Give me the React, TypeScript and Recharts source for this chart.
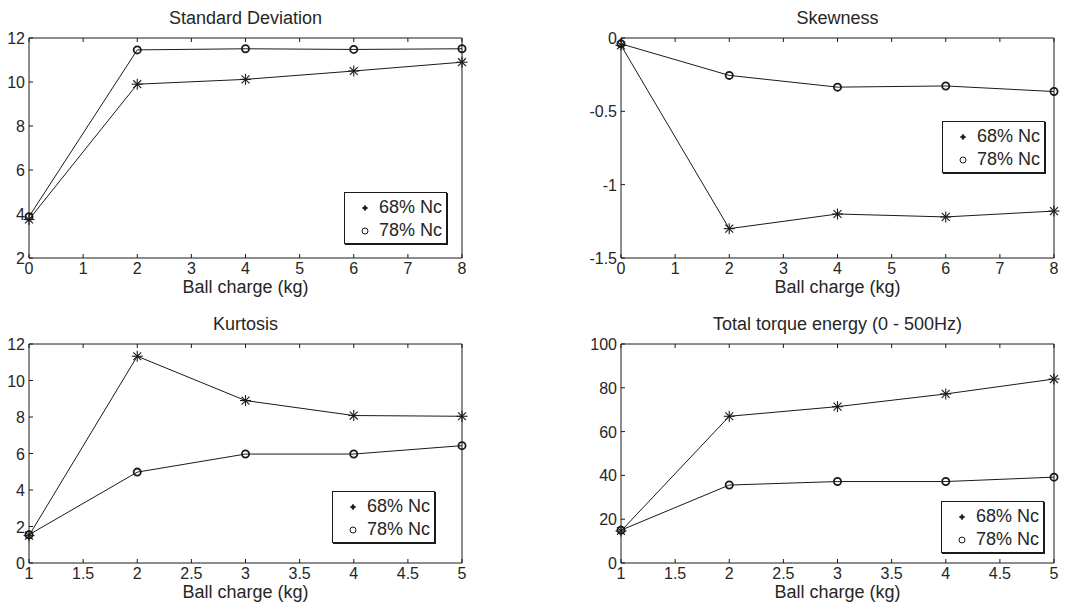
import React from 'react';
import { LineChart, Line, XAxis, YAxis, Legend } from 'recharts';

const FONT = '"Liberation Sans", Arial, Helvetica, sans-serif';
const INK = '#1a1a1a';
const TEXT = '#262626';
const TICK_LEN = 4;

const seriesNames = ['68% Nc', '78% Nc'];

// Standard deviation
const sdX = [0, 2, 4, 6, 8];
const sd68 = [3.75, 9.9, 10.12, 10.5, 10.9];
const sd78 = [3.88, 11.46, 11.51, 11.48, 11.51];
const sdXTicks = [0, 1, 2, 3, 4, 5, 6, 7, 8];
const sdYTicks = [2, 4, 6, 8, 10, 12];

// Skewness
const skX = [0, 2, 4, 6, 8];
const sk68 = [-0.05, -1.3, -1.2, -1.22, -1.18];
const sk78 = [-0.04, -0.255, -0.335, -0.327, -0.365];
const skXTicks = [0, 1, 2, 3, 4, 5, 6, 7, 8];
const skYTicks = [-1.5, -1, -0.5, 0];

// Kurtosis
const kuX = [1, 2, 3, 4, 5];
const ku68 = [1.5, 11.33, 8.9, 8.08, 8.04];
const ku78 = [1.55, 4.98, 5.97, 5.97, 6.43];
const kuXTicks = [1, 1.5, 2, 2.5, 3, 3.5, 4, 4.5, 5];
const kuYTicks = [0, 2, 4, 6, 8, 10, 12];

// Total torque energy
const teX = [1, 2, 3, 4, 5];
const te68 = [14.6, 67, 71.4, 77.2, 84];
const te78 = [15, 35.6, 37.2, 37.2, 39.2];
const teXTicks = [1, 1.5, 2, 2.5, 3, 3.5, 4, 4.5, 5];
const teYTicks = [0, 20, 40, 60, 80, 100];

const StarDot = (p: any) => {
  const { cx, cy } = p;
  if (cx == null || cy == null) return <g key={p.index} />;
  const r = 5.5;
  const d = r * 0.72;
  return (
    <g key={`s${p.index}`} stroke={INK} strokeWidth={1.1}>
      <line x1={cx - r} y1={cy} x2={cx + r} y2={cy} />
      <line x1={cx} y1={cy - r} x2={cx} y2={cy + r} />
      <line x1={cx - d} y1={cy - d} x2={cx + d} y2={cy + d} />
      <line x1={cx - d} y1={cy + d} x2={cx + d} y2={cy - d} />
    </g>
  );
};

const CircleDot = (p: any) => {
  const { cx, cy } = p;
  if (cx == null || cy == null) return <g key={p.index} />;
  return (
    <g key={`c${p.index}`}>
      <circle cx={cx} cy={cy} r={3.6} fill="none" stroke={INK} strokeWidth={1.8} />
    </g>
  );
};

const BottomTick = (p: any) => (
  <g>
    <line x1={p.x} y1={p.y} x2={p.x} y2={p.y - TICK_LEN} stroke={INK} strokeWidth={1} />
    <text x={p.x} y={p.y + 16} textAnchor="middle" fill={TEXT} fontSize={16} fontFamily={FONT}>
      {String(p.payload.value)}
    </text>
  </g>
);

const TopTick = (p: any) => (
  <line x1={p.x} y1={p.y} x2={p.x} y2={p.y + TICK_LEN} stroke={INK} strokeWidth={1} />
);

const LeftTick = (p: any) => (
  <g>
    <line x1={p.x} y1={p.y} x2={p.x + TICK_LEN} y2={p.y} stroke={INK} strokeWidth={1} />
    <text x={p.x - 4} y={p.y + 6} textAnchor="end" fill={TEXT} fontSize={16} fontFamily={FONT}>
      {String(p.payload.value)}
    </text>
  </g>
);

const RightTick = (p: any) => (
  <line x1={p.x} y1={p.y} x2={p.x - TICK_LEN} y2={p.y} stroke={INK} strokeWidth={1} />
);

const LegendMarker = ({ kind }: { kind: string }) => (
  <svg width={10} height={10} style={{ display: 'block' }}>
    {kind === 'a' ? (
      <g stroke={INK} strokeWidth={1.2}>
        <line x1={2} y1={5} x2={8} y2={5} />
        <line x1={5} y1={2} x2={5} y2={8} />
        <circle cx={5} cy={5} r={1.3} fill={INK} />
      </g>
    ) : (
      <circle cx={5} cy={5} r={3} fill="none" stroke={INK} strokeWidth={1} />
    )}
  </svg>
);

const LegendBox = (props: any) => {
  const payload = props.payload || [];
  return (
    <div
      style={{
        width: 103,
        height: 52,
        boxSizing: 'border-box',
        border: `1px solid ${INK}`,
        boxShadow: `1px 1px 0 ${INK}`,
        background: '#fff',
        fontFamily: FONT,
        fontSize: 18,
        color: TEXT,
        paddingTop: 3,
      }}
    >
      {payload.map((e: any) => (
        <div key={e.value} style={{ display: 'flex', alignItems: 'center', height: 23 }}>
          <div style={{ width: 15, marginLeft: 15 }}>
            <LegendMarker kind={e.dataKey === 'a' ? 'a' : 'b'} />
          </div>
          <span style={{ marginLeft: 4, lineHeight: '23px' }}>{e.value}</span>
        </div>
      ))}
    </div>
  );
};

type PanelProps = {
  left: number;
  top: number;
  width: number;
  height: number;
  plot: { x0: number; x1: number; y0: number; y1: number };
  title: string;
  xs: number[];
  a: number[];
  b: number[];
  xDomain: [number, number];
  xTicks: number[];
  yDomain: [number, number];
  yTicks: number[];
  legend: { x: number; y: number };
};

const Panel = (p: PanelProps) => {
  const data = p.xs.map((x, i) => ({ x, a: p.a[i], b: p.b[i] }));
  const margin = {
    left: p.plot.x0 - p.left - 1,
    right: p.left + p.width - p.plot.x1 - 1,
    top: p.plot.y0 - p.top - 1,
    bottom: p.top + p.height - p.plot.y1 - 1,
  };
  const cx = (p.plot.x0 + p.plot.x1) / 2 - p.left;
  const textStyle = {
    position: 'absolute' as const,
    left: cx - 200,
    width: 400,
    textAlign: 'center' as const,
    fontFamily: FONT,
    fontSize: 18,
    color: TEXT,
    lineHeight: '22px',
  };
  return (
    <div style={{ position: 'absolute', left: p.left, top: p.top, width: p.width, height: p.height }}>
      <div style={{ ...textStyle, top: p.plot.y0 - p.top - 31 }}>{p.title}</div>
      <div style={{ ...textStyle, top: p.plot.y1 - p.top + 18 }}>Ball charge (kg)</div>
      <LineChart width={p.width} height={p.height} data={data} margin={margin}>
        <XAxis
          xAxisId="b"
          dataKey="x"
          type="number"
          domain={p.xDomain}
          ticks={p.xTicks}
          interval={0}
          height={1}
          orientation="bottom"
          stroke={INK}
          tickLine={false}
          tickSize={0}
          tickMargin={0}
          tick={BottomTick}
        />
        <XAxis
          xAxisId="t"
          dataKey="x"
          type="number"
          domain={p.xDomain}
          ticks={p.xTicks}
          interval={0}
          height={1}
          orientation="top"
          stroke={INK}
          tickLine={false}
          tickSize={0}
          tickMargin={0}
          tick={TopTick}
        />
        <YAxis
          yAxisId="l"
          type="number"
          domain={p.yDomain}
          ticks={p.yTicks}
          interval={0}
          width={1}
          orientation="left"
          stroke={INK}
          tickLine={false}
          tickSize={0}
          tickMargin={0}
          tick={LeftTick}
        />
        <YAxis
          yAxisId="r"
          type="number"
          domain={p.yDomain}
          ticks={p.yTicks}
          interval={0}
          width={1}
          orientation="right"
          stroke={INK}
          tickLine={false}
          tickSize={0}
          tickMargin={0}
          tick={RightTick}
        />
        <Line
          xAxisId="b"
          yAxisId="l"
          dataKey="a"
          name={seriesNames[0]}
          stroke={INK}
          strokeWidth={1}
          dot={StarDot}
          activeDot={false}
          isAnimationActive={false}
        />
        <Line
          xAxisId="b"
          yAxisId="l"
          dataKey="b"
          name={seriesNames[1]}
          stroke={INK}
          strokeWidth={1}
          dot={CircleDot}
          activeDot={false}
          isAnimationActive={false}
        />
        <Legend
          layout="vertical"
          align="center"
          verticalAlign="middle"
          content={LegendBox}
          wrapperStyle={{ left: p.legend.x - p.left, top: p.legend.y - p.top, width: 103, height: 52, bottom: 'auto', right: 'auto' }}
        />
      </LineChart>
    </div>
  );
};

export default function App() {
  return (
    <div style={{ position: 'absolute', left: 0, top: 0, width: 1091, height: 613, background: '#fff', overflow: 'hidden' }}>
      <Panel
        left={0}
        top={0}
        width={545}
        height={306}
        plot={{ x0: 29, x1: 462, y0: 38, y1: 258 }}
        title="Standard Deviation"
        xs={sdX}
        a={sd68}
        b={sd78}
        xDomain={[0, 8]}
        xTicks={sdXTicks}
        yDomain={[2, 12]}
        yTicks={sdYTicks}
        legend={{ x: 344, y: 192 }}
      />
      <Panel
        left={545}
        top={0}
        width={546}
        height={306}
        plot={{ x0: 621, x1: 1054, y0: 38, y1: 258 }}
        title="Skewness"
        xs={skX}
        a={sk68}
        b={sk78}
        xDomain={[0, 8]}
        xTicks={skXTicks}
        yDomain={[-1.5, 0]}
        yTicks={skYTicks}
        legend={{ x: 942, y: 121 }}
      />
      <Panel
        left={0}
        top={306}
        width={545}
        height={307}
        plot={{ x0: 29, x1: 462, y0: 344, y1: 563 }}
        title="Kurtosis"
        xs={kuX}
        a={ku68}
        b={ku78}
        xDomain={[1, 5]}
        xTicks={kuXTicks}
        yDomain={[0, 12]}
        yTicks={kuYTicks}
        legend={{ x: 332, y: 491 }}
      />
      <Panel
        left={545}
        top={306}
        width={546}
        height={307}
        plot={{ x0: 621, x1: 1054, y0: 344, y1: 563 }}
        title="Total torque energy (0 - 500Hz)"
        xs={teX}
        a={te68}
        b={te78}
        xDomain={[1, 5]}
        xTicks={teXTicks}
        yDomain={[0, 100]}
        yTicks={teYTicks}
        legend={{ x: 941, y: 501 }}
      />
    </div>
  );
}
